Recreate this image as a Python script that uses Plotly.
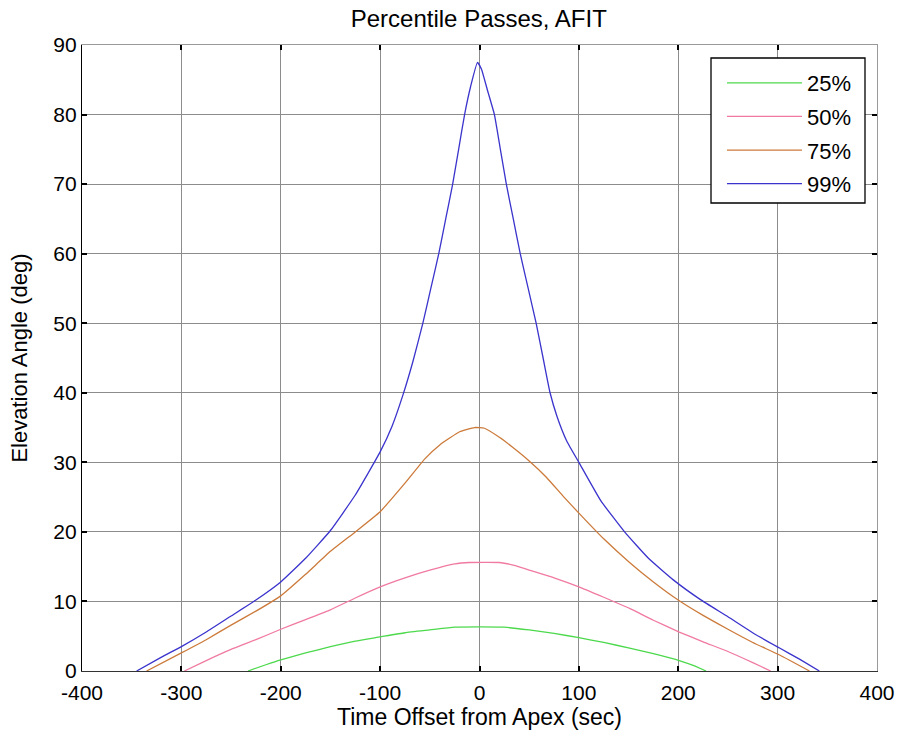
import plotly.graph_objects as go

# ---- data ----
t25 = [-233, -215, -200, -175, -150, -125, -100, -75, -50, -25, 25, 50, 75, 100, 125, 151, 175, 201, 215, 228]
e25 = [0, 0.9, 1.6, 2.6, 3.5, 4.3, 4.9, 5.5, 5.9, 6.3, 6.3, 5.9, 5.4, 4.8, 4.1, 3.3, 2.5, 1.5, 0.8, 0]

t50 = [-297, -275, -250, -225, -200, -175, -150, -125, -100, -75, -50, -25, -10, 20, 35, 50, 75, 100, 125, 151, 175, 201, 225, 250, 275, 293]
e50 = [0, 1.5, 3.1, 4.5, 6.0, 7.4, 8.8, 10.5, 12.1, 13.4, 14.5, 15.4, 15.6, 15.6, 15.2, 14.5, 13.4, 12.1, 10.6, 9.0, 7.3, 5.6, 4.2, 2.8, 1.2, 0]

t75 = [-335, -300, -275, -250, -225, -200, -175, -150, -125, -100, -75, -55, -40, -20, -5, 5, 20, 33, 50, 67, 85, 100, 125, 151, 175, 201, 225, 250, 275, 302, 332]
e75 = [0, 2.6, 4.5, 6.6, 8.6, 10.8, 13.9, 17.2, 20.0, 22.9, 27.0, 30.5, 32.5, 34.4, 35.0, 34.9, 33.6, 32.2, 30.2, 27.9, 25.0, 22.7, 19.0, 15.6, 12.8, 10.1, 8.0, 6.0, 4.1, 2.3, 0]

t99 = [-345, -320, -300, -275, -250, -225, -200, -175, -150, -125, -100, -88, -77, -67, -57, -49, -41, -34, -27, -21, -15, -9, -2,
       2, 8, 15, 21, 27, 34, 41, 49, 57, 64, 71, 78, 88, 100, 122, 146, 170, 195, 222, 250, 276, 302, 322, 342]
e99 = [0, 2.0, 3.5, 5.6, 7.9, 10.2, 12.8, 16.2, 20.2, 25.3, 31.5, 35.2, 39.7, 44.5, 50, 55, 60, 65, 70, 75, 80, 84, 87.5,
       86.5, 83.5, 80, 75, 70, 65, 60, 55, 50, 45, 40, 36.6, 33.0, 30, 24.5, 20, 16.2, 13.1, 10.3, 7.8, 5.4, 3.3, 1.7, 0]

names = ["25%", "50%", "75%", "99%"]
colors = ["#4cd94c", "#f07aa0", "#cc7a3a", "#3a33cc"]

x_ticks = list(range(-400, 401, 100))
x_ticktext = [str(v) for v in x_ticks]
y_ticks = list(range(0, 91, 10))
y_ticktext = [str(v) for v in y_ticks]

FONT = "Liberation Sans, Arial, sans-serif"

fig = go.Figure()
for tt, ee, nm, c in zip([t25, t50, t75, t99], [e25, e50, e75, e99], names, colors):
    fig.add_trace(go.Scatter(x=tt, y=ee, mode="lines", name=nm, legendgroup=nm,
                             line=dict(color=c, width=1.3, shape="spline", smoothing=0.4)))

# dummy trace for mirrored axes (top/right)
fig.add_trace(go.Scatter(x=[None], y=[None], xaxis="x2", yaxis="y2",
                         showlegend=False, hoverinfo="skip"))

axis_common = dict(ticks="inside", ticklen=5, tickwidth=1.5, tickcolor="black",
                   showgrid=True, gridcolor="#8c8c8c", gridwidth=1,
                   zeroline=False, showline=True, automargin=False,
                   tickfont=dict(family=FONT, size=21, color="black"))

# legend frame (drawn as a shape so its size matches the reference)
fig.add_shape(type="rect", xref="paper", yref="paper",
              x0=0.7912, x1=0.9849, y0=0.7476, y1=0.9792,
              line=dict(color="black", width=1.3), fillcolor="white", layer="above")

fig.update_layout(
    width=900, height=739,
    margin=dict(l=82, r=23, t=45, b=68, autoexpand=False),
    paper_bgcolor="white", plot_bgcolor="white",
    font=dict(family=FONT, color="black"),
    title=dict(text="Percentile Passes, AFIT", x=0.532, xanchor="center",
               y=0.975, yanchor="middle",
               font=dict(family=FONT, size=24, color="black")),
    xaxis=dict(range=[-400, 400], tickvals=x_ticks, ticktext=x_ticktext,
               linecolor="#333333", linewidth=1.2, ticklabelstandoff=3,
               title=dict(text="Time Offset from Apex (sec)", standoff=4,
                          font=dict(family=FONT, size=23, color="black")),
               **axis_common),
    yaxis=dict(range=[0, 90], tickvals=y_ticks, ticktext=y_ticktext,
               linecolor="black", linewidth=1.2,
               title=dict(text="Elevation Angle (deg)", standoff=19,
                          font=dict(family=FONT, size=22, color="black")),
               **axis_common),
    xaxis2=dict(range=[-400, 400], tickvals=x_ticks, overlaying="x", side="top",
                anchor="y", showticklabels=False, ticks="inside", ticklen=5,
                tickwidth=1.5, tickcolor="black", showline=True, linecolor="#9a9a9a",
                showgrid=False, zeroline=False, automargin=False),
    yaxis2=dict(range=[0, 90], tickvals=y_ticks, overlaying="y", side="right",
                anchor="x", showticklabels=False, ticks="inside", ticklen=5,
                tickwidth=1.5, tickcolor="black", showline=True, linecolor="#9a9a9a",
                showgrid=False, zeroline=False, automargin=False),
    legend=dict(x=0.805, y=0.9728, xanchor="left", yanchor="top",
                bgcolor="rgba(0,0,0,0)", borderwidth=0,
                font=dict(family=FONT, size=22, color="black"),
                itemwidth=75, tracegroupgap=2),
    showlegend=True,
)

fig.write_html("out.html")
